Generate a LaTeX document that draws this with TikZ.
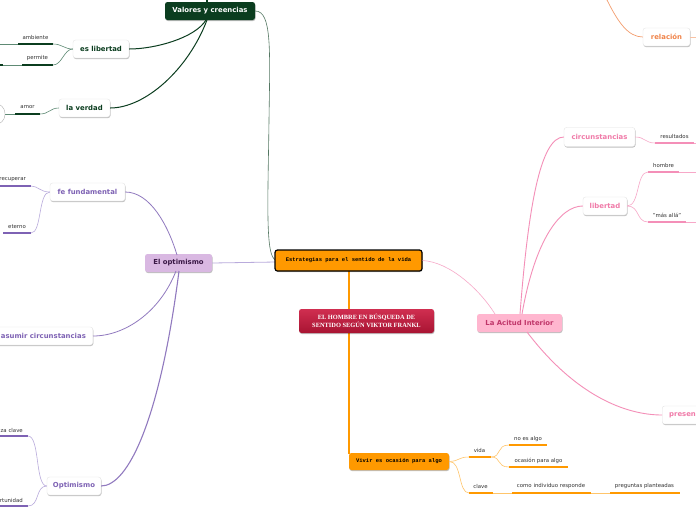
\documentclass[tikz,border=0pt]{standalone}
\usepackage{fontspec}
\setmainfont{DejaVu Sans}
\newfontfamily\monof{Liberation Mono}
\newfontfamily\seriff{Liberation Serif}
\usetikzlibrary{shadows}
\definecolor{dgreen}{HTML}{0B3D1F}
\definecolor{lgreen}{HTML}{5E8A74}
\definecolor{purp}{HTML}{7E62B4}
\definecolor{lpurp}{HTML}{B9ABDC}
\definecolor{optfill}{HTML}{D9B8E2}
\definecolor{opttext}{HTML}{3A1846}
\definecolor{pinkt}{HTML}{F07AA8}
\definecolor{pinkl}{HTML}{F7A8C8}
\definecolor{pinkm}{HTML}{F48FB8}
\definecolor{pinkfill}{HTML}{FFB6CF}
\definecolor{pinkdark}{HTML}{C0366A}
\definecolor{orng}{HTML}{FF9900}
\definecolor{lorng}{HTML}{FFC56B}
\definecolor{relc}{HTML}{F0844A}
\definecolor{crimtop}{HTML}{D02E50}
\definecolor{crimbot}{HTML}{A81432}
\tikzset{
  box/.style={rounded corners=2.5pt, inner sep=0pt, font=\bfseries\fontsize{6.9}{8}\selectfont,
    drop shadow={shadow xshift=0.5pt, shadow yshift=-1pt, opacity=0.25, fill=black}},
  wbox/.style={box, fill=white, draw=black!12, line width=0.3pt},
  lab/.style={font=\fontsize{5.4}{6.5}\selectfont, text=black!80, inner sep=0pt},
  ul/.style={line width=1.8pt, #1},
  thin/.style={line width=0.6pt, #1},
}
\begin{document}
\begin{tikzpicture}[x=1pt,y=-1pt]
\useasboundingbox (0,0) rectangle (696,520);
\clip (0,0) rectangle (696,520);
\fill[white] (0,0) rectangle (696,520);

% ---------- Vivir trunk (behind everything) ----------
\coordinate (vtop) at (348,270);
\coordinate (vbot) at (350,454);
\fill[orng] (vtop) rectangle (vbot);

% ---------- Valores y creencias branch ----------
\node[box, fill=dgreen, text=white, minimum width=90pt, minimum height=18pt] (val) at (210,11) {Valores y creencias};
\node[wbox, text=dgreen, minimum width=56pt, minimum height=18pt] (eslib) at (101,49) {es libertad};
\node[wbox, text=dgreen, minimum width=51pt, minimum height=18pt] (verdad) at (84.5,108) {la verdad};
\coordinate (valtop) at (207,0);
\draw[line width=1.2pt, dgreen] (val.north -| valtop) -- (valtop);

\node[lab] (amb) at (35.5,37.5) {ambiente};
\coordinate (amb1) at (18,44); \coordinate (amb2) at (53,44); \coordinate (amb0) at (0,44);
\draw[ul=dgreen] (amb1) -- (amb2);
\draw[thin=lgreen] (amb1) -- (amb0);
\node[lab] (perm) at (37.5,58.5) {permite};
\coordinate (per1) at (22,65); \coordinate (per2) at (53,65); \coordinate (per0) at (3,65); \coordinate (perx) at (0,65);
\draw[ul=dgreen] (per1) -- (per2);
\draw[thin=lgreen] (per1) -- (per0);
\draw[ul=dgreen] (per0) -- (perx);
\node[lab] (amor) at (27.5,107.5) {amor};
\coordinate (amo1) at (15,114); \coordinate (amo2) at (40,114); \coordinate (amo0) at (5,114);
\draw[ul=dgreen] (amo1) -- (amo2);
\draw[thin=lgreen] (amo1) -- (amo0);
\draw[black!30, line width=0.4pt, rounded corners=10pt] (-40,103.5) rectangle (5,124.5);

\draw[thin=lgreen] (eslib.west) .. controls (64,49) and (62,44) .. (amb2);
\draw[thin=lgreen] (eslib.west) .. controls (64,49) and (62,65) .. (per2);
\draw[thin=lgreen] (verdad.west) .. controls (50,108) and (49,114) .. (amo2);
\draw[line width=1pt, dgreen] (206,20) .. controls (195,38) and (155,49) .. (eslib.east);
\draw[line width=1pt, dgreen] (207,20) .. controls (188,70) and (145,108) .. (verdad.east);
\draw[line width=0.6pt, dgreen!70!white] (val.east) .. controls (272,11) and (270,50) .. (269,120)
  .. controls (268,200) and (265,258) .. (276,260);

% ---------- El optimismo branch ----------
\node[box, fill=optfill, text=opttext, minimum width=67pt, minimum height=18pt] (opt) at (178.5,263) {El optimismo};
\node[wbox, text=purp, minimum width=75pt, minimum height=18pt] (fe) at (87.5,192) {fe fundamental};
\node[wbox, text=purp, anchor=east, minimum height=18pt, inner xsep=7pt] (asum) at (93,336) {\hspace{14pt}asumir circunstancias};
\node[wbox, text=purp, minimum width=54pt, minimum height=18pt] (optim) at (74,486) {Optimismo};

\node[lab, anchor=east] (recu) at (26,180) {recuperar};
\coordinate (rec1) at (0,186); \coordinate (rec2) at (31,186);
\draw[ul=purp] (rec1) -- (rec2);
\node[lab] (eter) at (17,227) {eterno};
\coordinate (ete1) at (3,233); \coordinate (ete2) at (31,233);
\draw[ul=purp] (ete1) -- (ete2);
\node[lab, anchor=east] (zacl) at (23,430) {za clave};
\coordinate (zc1) at (0,436); \coordinate (zc2) at (28,436);
\draw[ul=purp] (zc1) -- (zc2);
\node[lab, anchor=east] (opor) at (23,500) {rtunidad};
\coordinate (op1) at (0,506); \coordinate (op2) at (28,506);
\draw[ul=purp] (op1) -- (op2);

\draw[thin=lpurp] (fe.west) .. controls (40,192) and (38,186) .. (rec2);
\draw[thin=lpurp] (fe.west) .. controls (38,192) and (42,233) .. (ete2);
\draw[thin=lpurp] (optim.west) .. controls (35,486) and (40,436) .. (zc2);
\draw[thin=lpurp] (optim.west) .. controls (35,486) and (40,506) .. (op2);

\draw[line width=0.8pt, lpurp] (opt.east) -- (276,262);
\draw[line width=0.8pt, purp!85!white] (177,255) .. controls (168,225) and (150,192) .. (fe.east);
\draw[line width=0.8pt, purp!85!white] (176,271) .. controls (160,312) and (125,336) .. (asum.east);
\draw[line width=1.1pt, purp!85!white] (179,271) .. controls (160,420) and (128,486) .. (optim.east);

% ---------- Central ----------
\node[box, fill=orng, minimum width=100pt, minimum height=17pt,
  font=\monof\bfseries\fontsize{5.5}{6}\selectfont] (viv) at (399,461.5) {Vivir es ocasión para algo};
\node[box, fill=orng, draw=black, line width=1.2pt, minimum width=147pt, minimum height=21pt,
  font=\monof\bfseries\fontsize{5.5}{6}\selectfont] (cen) at (348.5,260.5) {Estrategias para el sentido de la vida};
\node[box, top color=crimtop, bottom color=crimbot, text=white, minimum width=135pt, minimum height=24pt,
  align=center, font=\seriff\bfseries\fontsize{6.4}{7.6}\selectfont] (tit) at (366.5,321)
  {EL HOMBRE EN BÚSQUEDA DE\\SENTIDO SEGÚN VIKTOR FRANKL};

% ---------- Vivir branch ----------
\node[lab] (vida) at (479.5,450) {vida};
\coordinate (vi1) at (469,457); \coordinate (vi2) at (491,457);
\draw[ul=orng] (vi1) -- (vi2);
\node[lab] (noes) at (528,439) {no es algo};
\coordinate (ne1) at (509,445); \coordinate (ne2) at (547,445);
\draw[ul=orng] (ne1) -- (ne2);
\node[lab] (ocas) at (538.5,461) {ocasión para algo};
\coordinate (oc1) at (509,467); \coordinate (oc2) at (568,467);
\draw[ul=orng] (oc1) -- (oc2);
\node[lab] (clav) at (480.5,486) {clave};
\coordinate (cl1) at (469,493); \coordinate (cl2) at (493,493);
\draw[ul=orng] (cl1) -- (cl2);
\node[lab] (como) at (551,486) {como individuo responde};
\coordinate (co1) at (512,493); \coordinate (co2) at (591,493);
\draw[ul=orng] (co1) -- (co2);
\node[lab] (preg) at (644.5,486) {preguntas planteadas};
\coordinate (pr1) at (610,493); \coordinate (pr2) at (680,493);
\draw[ul=orng] (pr1) -- (pr2);

\draw[thin=lorng] (viv.east) .. controls (460,461) and (458,457) .. (vi1);
\draw[thin=lorng] (viv.east) .. controls (462,461) and (458,493) .. (cl1);
\draw[thin=lorng] (vi2) .. controls (502,457) and (496,445) .. (ne1);
\draw[thin=lorng] (vi2) .. controls (502,457) and (496,467) .. (oc1);
\draw[thin=lorng] (cl2) -- (co1);
\draw[thin=lorng] (co2) -- (pr1);

% ---------- La Acitud Interior branch ----------
\node[box, fill=pinkfill, text=pinkdark, minimum width=85pt, minimum height=18pt] (act) at (519.5,323) {La Acitud Interior};
\node[wbox, text=pinkt, minimum width=71pt, minimum height=19pt] (circ) at (599.5,137) {circunstancias};
\node[wbox, text=pinkt, minimum width=44pt, minimum height=18pt] (lib) at (605,206) {libertad};
\node[wbox, text=pinkt, anchor=west, minimum height=18pt, inner xsep=7pt] (pres) at (662,415) {presen\hspace{30pt}};

\node[lab] (resu) at (674.5,136) {resultados};
\coordinate (re1) at (655,143); \coordinate (re2) at (694,143); \coordinate (re3) at (696,143);
\draw[ul=pinkm] (re1) -- (re2);
\draw[thin=pinkl] (re2) -- (re3);
\node[lab] (homb) at (663.5,165) {hombre};
\coordinate (ho1) at (648,172); \coordinate (ho2) at (679,172); \coordinate (ho3) at (696,172);
\draw[ul=pinkm] (ho1) -- (ho2);
\draw[thin=pinkl] (ho2) -- (ho3);
\node[lab] (masa) at (667,215) {"más allá"};
\coordinate (ma1) at (648,222); \coordinate (ma2) at (686,222); \coordinate (ma3) at (696,222);
\draw[ul=pinkm] (ma1) -- (ma2);
\draw[thin=pinkl] (ma2) -- (ma3);

\draw[thin=pinkl] (circ.east) .. controls (645,137) and (645,143) .. (re1);
\draw[thin=pinkl] (lib.east) .. controls (640,206) and (636,172) .. (ho1);
\draw[thin=pinkl] (lib.east) .. controls (640,206) and (636,222) .. (ma1);

\draw[line width=0.6pt, pinkl] (cen.east) .. controls (450,262) and (480,290) .. (495,314);
\draw[line width=0.9pt, pinkm] (520,314) .. controls (528,210) and (540,137) .. (circ.west);
\draw[line width=0.9pt, pinkm] (522,314) .. controls (535,240) and (560,206) .. (lib.west);
\draw[line width=0.9pt, pinkm] (527,332) .. controls (575,395) and (625,415) .. (pres.west);

% ---------- relación ----------
\node[wbox, text=relc, minimum width=47pt, minimum height=18pt] (rel) at (666.5,37) {relación};
\coordinate (reltop) at (607,0); \coordinate (relend) at (696,37);
\draw[line width=0.7pt, relc!80!white] (reltop) .. controls (618,22) and (628,37) .. (rel.west);
\draw[thin=relc!50!white] (rel.east) -- (relend);
\end{tikzpicture}
\end{document}
